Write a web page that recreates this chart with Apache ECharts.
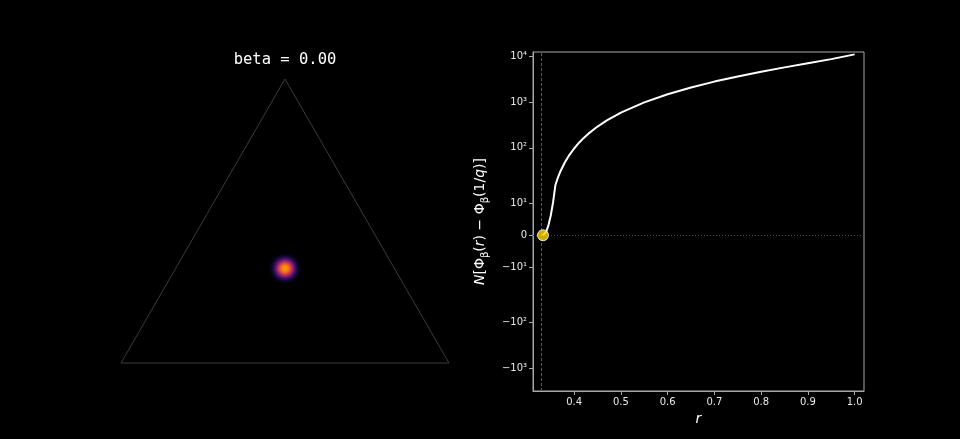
<!DOCTYPE html>
<html>
<head>
<meta charset="utf-8">
<title>beta = 0.00</title>
<script src="https://cdn.jsdelivr.net/npm/echarts@6/dist/echarts.min.js"></script>
<style>
  html, body { margin: 0; padding: 0; background: #000; }
  #chart { width: 960px; height: 439px; }
</style>
</head>
<body>
<div id="chart"></div>
<script>
// values
const betaLabel = 'beta = 0.00'
const rValues = [0.3333, 0.336, 0.34, 0.345, 0.35, 0.355, 0.36, 0.365, 0.37, 0.38, 0.39, 0.40,
  0.41, 0.42, 0.43, 0.45, 0.47, 0.50, 0.55, 0.60, 0.65, 0.70, 0.75, 0.80, 0.85, 0.90, 0.95, 1.00]
const phiValues = [0, 0.2, 1.0, 3.1, 6.2, 10.4, 15.8, 22.2, 29.7, 48, 70.5, 97,
  128, 163, 202, 292, 399, 589, 986, 1483, 2086, 2798, 3630, 4596, 5719, 7042, 8654, 10986]
const rStart = 1 / 3
const xTickValues = [0.4, 0.5, 0.6, 0.7, 0.8, 0.9, 1.0]
const yTickValues = [-1000, -100, -10, 0, 10, 100, 1000, 10000]
const yTickLabels = ['−10³', '−10²', '−10¹', '0', '10¹', '10²', '10³', '10⁴']

// simplex (triangle) corners and the density blob near its centre
const simplexCorners = [[0, 0], [1, 0], [0.5, 0.866]]
const blobPoints = [[0.4955, 0.2887, 0.75], [0.5045, 0.2887, 0.75]]
const infernoColors = ['#000004', '#1b0c41', '#4a0c6b', '#781c6d', '#a52c60',
  '#cf4446', '#ed6925', '#fb9b06', '#f7d13d', '#fcffa4']

// symlog scale (linthresh 16, linscale 1), like matplotlib
const LINTHRESH = 16
const LINSCALE = 1 / (1 - 1 / 10)
function symlog(v) {
  const a = Math.abs(v)
  const t = a <= LINTHRESH ? a / LINTHRESH * LINSCALE : LINSCALE + Math.log10(a / LINTHRESH)
  return v < 0 ? -t : t
}

echarts.registerMap('simplex', {
  type: 'FeatureCollection',
  features: [{
    type: 'Feature',
    properties: { name: 'simplex' },
    geometry: { type: 'Polygon', coordinates: [simplexCorners.concat([simplexCorners[0]])] }
  }]
})

const chart = echarts.init(document.getElementById('chart'))

const axisColor = '#a8a8a8'
const labelColor = '#e8e8e8'

chart.setOption({
  backgroundColor: '#000',
  animation: false,
  title: {
    text: betaLabel,
    left: 285,
    top: 52,
    textAlign: 'center',
    padding: 0,
    textStyle: { color: '#fff', fontFamily: 'DejaVu Sans Mono', fontWeight: 'normal', fontSize: 15.5 }
  },
  geo: {
    map: 'simplex',
    roam: false,
    silent: true,
    aspectScale: 1,
    layoutCenter: [285, 221],
    layoutSize: 328,
    label: { show: false },
    itemStyle: { areaColor: '#000', borderColor: '#3c3c3c', borderWidth: 1 },
    emphasis: { disabled: true },
    select: { disabled: true }
  },
  visualMap: {
    type: 'continuous',
    show: false,
    min: 0,
    max: 1,
    seriesIndex: 0,
    inRange: { color: infernoColors }
  },
  grid: {
    left: 533,
    right: 96,
    top: 52,
    bottom: 48,
    show: true,
    borderColor: axisColor,
    borderWidth: 1,
    backgroundColor: 'transparent'
  },
  xAxis: {
    type: 'value',
    min: 0.312,
    max: 1.02,
    name: 'r',
    nameLocation: 'middle',
    nameGap: 21,
    nameTextStyle: { color: '#fff', fontFamily: 'DejaVu Sans', fontStyle: 'italic', fontSize: 14 },
    axisLine: { show: true, onZero: false, lineStyle: { color: axisColor } },
    axisTick: { show: true, length: 4, customValues: xTickValues, lineStyle: { color: axisColor } },
    axisLabel: {
      customValues: xTickValues,
      margin: 6,
      color: labelColor,
      fontFamily: 'DejaVu Sans',
      fontSize: 10,
      formatter: v => v.toFixed(1)
    },
    splitLine: { show: false }
  },
  yAxis: {
    type: 'value',
    min: -3.4,
    max: 4.0,
    name: '{it|N}[Φ{sub|β}({it|r}) − Φ{sub|β}(1/{it|q})]',
    nameLocation: 'middle',
    nameGap: 43,
    nameTextStyle: {
      color: '#fff',
      fontFamily: 'DejaVu Sans',
      fontSize: 14,
      rich: {
        it: { fontStyle: 'italic', fontSize: 14, color: '#fff', fontFamily: 'DejaVu Sans' },
        sub: { fontSize: 10, color: '#fff', fontFamily: 'DejaVu Sans', verticalAlign: 'bottom', lineHeight: 20 }
      }
    },
    axisLine: { show: true, lineStyle: { color: axisColor } },
    axisTick: { show: true, length: 4, customValues: yTickValues.map(symlog), lineStyle: { color: axisColor } },
    axisLabel: {
      customValues: yTickValues.map(symlog),
      margin: 6,
      color: labelColor,
      fontFamily: 'DejaVu Sans',
      fontSize: 10,
      formatter: function (val) {
        const i = yTickValues.findIndex(t => Math.abs(symlog(t) - val) < 1e-6)
        return i >= 0 ? yTickLabels[i] : ''
      }
    },
    splitLine: { show: false }
  },
  series: [
    {
      type: 'heatmap',
      coordinateSystem: 'geo',
      geoIndex: 0,
      data: blobPoints,
      pointSize: 7,
      blurSize: 9,
      minOpacity: 1,
      maxOpacity: 1,
      silent: true
    },
    {
      type: 'line',
      data: rValues.map((r, i) => [r, symlog(phiValues[i])]),
      showSymbol: false,
      smooth: false,
      lineStyle: { color: '#fff', width: 2 },
      silent: true,
      z: 3,
      markLine: {
        silent: true,
        symbol: 'none',
        label: { show: false },
        animation: false,
        data: [
          { xAxis: rStart, lineStyle: { color: '#5a5a5a', width: 1, type: [3, 2] } },
          { yAxis: symlog(0), lineStyle: { color: '#4a4a4a', width: 1, type: [1, 2] } }
        ]
      }
    },
    {
      type: 'scatter',
      data: [[rStart, symlog(0)]],
      symbolSize: 11,
      itemStyle: { color: '#ffd700', borderColor: '#fff', borderWidth: 1 },
      silent: true,
      z: 10
    }
  ]
})

window.addEventListener('resize', () => chart.resize())
</script>
</body>
</html>
